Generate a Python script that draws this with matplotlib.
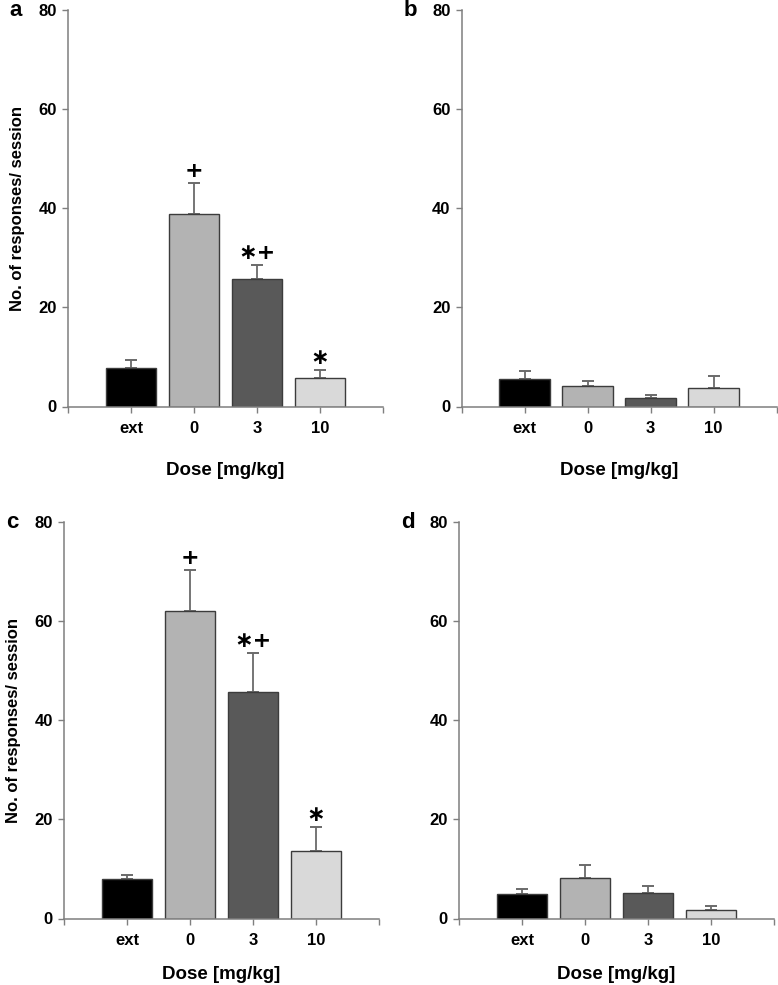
import matplotlib
matplotlib.use("Agg")
import matplotlib.pyplot as plt

plt.rcParams['font.family'] = ['Liberation Sans', 'DejaVu Sans']
plt.rcParams['font.weight'] = 'bold'

doses = ['ext', '0', '3', '10']
colors = ['#000000', '#b3b3b3', '#595959', '#d9d9d9']

# means and SEM (upper error only)
a_mean = [7.8, 38.8, 25.8, 5.8]
a_err = [1.6, 6.2, 2.8, 1.6]
b_mean = [5.5, 4.2, 1.8, 3.7]
b_err = [1.7, 0.9, 0.6, 2.4]
c_mean = [8.0, 62.0, 45.6, 13.7]
c_err = [0.7, 8.3, 7.9, 4.7]
d_mean = [4.9, 8.2, 5.2, 1.7]
d_err = [1.1, 2.5, 1.4, 0.9]

a_marks = ['', '+', '\u2217+', '\u2217']
c_marks = ['', '+', '\u2217+', '\u2217']

fig = plt.figure(figsize=(7.78, 9.85), dpi=100)

W, H = 778, 985
def make_ax(left, top, bottom, right):
    return fig.add_axes([left / W, 1 - bottom / H, (right - left) / W, (bottom - top) / H])

panels = [
    ('a', make_ax(68, 10, 406.5, 383), a_mean, a_err, a_marks, True, 19),
    ('b', make_ax(461.5, 10, 406.5, 776.5), b_mean, b_err, None, False, 19),
    ('c', make_ax(64, 522, 918.5, 379), c_mean, c_err, c_marks, True, 13),
    ('d', make_ax(459, 522, 918.5, 774), d_mean, d_err, None, False, 13),
]

gray = '#7f7f7f'
for letter, ax, mean, err, marks, ylab, lpad in panels:
    x = list(range(len(doses)))
    ax.errorbar(x, mean, yerr=[[0] * len(err), err], fmt='none', ecolor='#6a6a6a',
                elinewidth=1.3, capsize=4.5, capthick=1.4, zorder=1)
    ax.bar(x, mean, width=0.8, color=colors, edgecolor='#3c3c3c', linewidth=1.0, zorder=2)
    if marks:
        for i, m in enumerate(marks):
            if m:
                ax.annotate(m, (x[i], mean[i] + err[i]), xytext=(0, 1.5), textcoords='offset points',
                            ha='center', va='bottom', fontsize=16, fontweight='bold',
                            family=['DejaVu Sans'])
    ax.set_xlim(-1, 4)
    ax.set_ylim(0, 80)
    ax.set_yticks([0, 20, 40, 60, 80])
    ax.set_xticks([-1, 0, 1, 2, 3, 4])
    ax.set_xticklabels([''] + doses + [''])
    for s in ['top', 'right']:
        ax.spines[s].set_visible(False)
    for s in ['left', 'bottom']:
        ax.spines[s].set_color(gray)
        ax.spines[s].set_linewidth(1.1)
    ax.tick_params(axis='both', colors=gray, labelcolor='black', labelsize=12,
                   length=4.5, width=1.0, direction='out')
    ax.tick_params(axis='x', pad=6)
    ax.set_xlabel('Dose [mg/kg]', fontsize=13.5, fontweight='bold', labelpad=lpad)
    if ylab:
        ax.set_ylabel('No. of responses/ session', fontsize=12, fontweight='bold', labelpad=10)
    ax.text(-0.185, 1.0, letter, transform=ax.transAxes,
            fontsize=16, fontweight='bold', ha='left', va='center')

fig.savefig('out.png', dpi=100)
